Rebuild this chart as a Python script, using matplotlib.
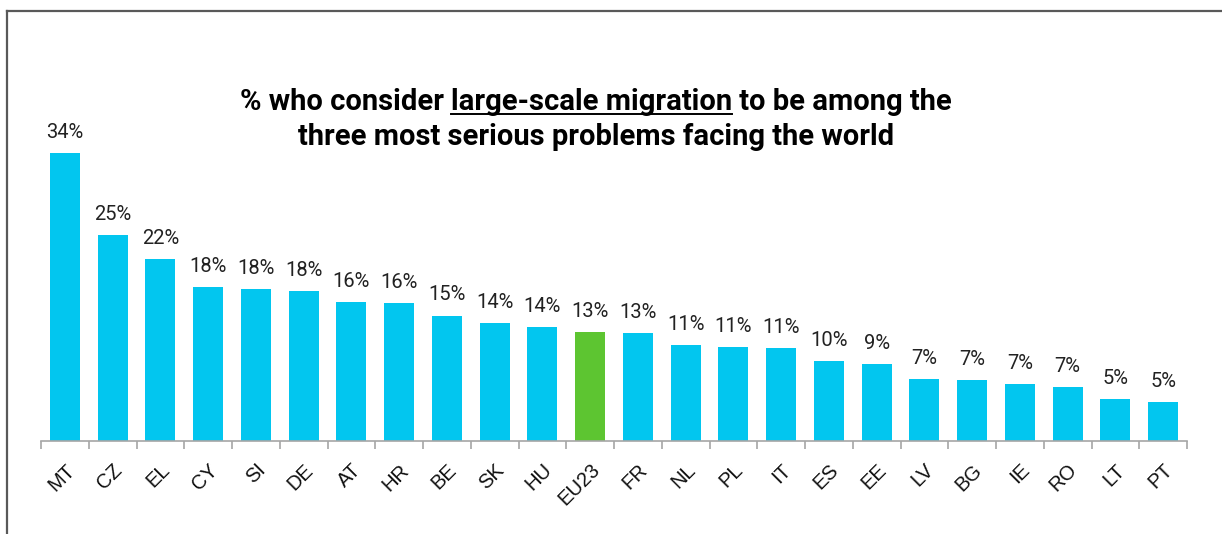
import matplotlib
matplotlib.use("Agg")
import matplotlib.pyplot as plt
from matplotlib.lines import Line2D

plt.rcParams['font.family'] = ['Roboto', 'DejaVu Sans']

countries = ["MT", "CZ", "EL", "CY", "SI", "DE", "AT", "HR", "BE", "SK", "HU", "EU23",
             "FR", "NL", "PL", "IT", "ES", "EE", "LV", "BG", "IE", "RO", "LT", "PT"]
values = [34.0, 24.3, 21.5, 18.2, 17.9, 17.7, 16.4, 16.3, 14.8, 13.9, 13.4, 12.9,
          12.7, 11.3, 11.1, 11.0, 9.4, 9.1, 7.3, 7.2, 6.7, 6.4, 5.0, 4.6]
labels = ["34%", "25%", "22%", "18%", "18%", "18%", "16%", "16%", "15%", "14%", "14%", "13%",
          "13%", "11%", "11%", "11%", "10%", "9%", "7%", "7%", "7%", "7%", "5%", "5%"]

blue = "#02c6ef"
green = "#5dc531"
colors = [green if c == "EU23" else blue for c in countries]

fig = plt.figure(figsize=(12.22, 5.34), dpi=100)
ax = fig.add_axes([41/1222, 1-441/534, (1187-41)/1222, 339/534])

x = list(range(len(countries)))
bars = ax.bar(x, values, width=0.63, color=colors, zorder=2)
for b, lab in zip(bars, labels):
    ax.annotate(lab, (b.get_x() + b.get_width()/2, b.get_height()),
                xytext=(0, 8), textcoords="offset points",
                ha="center", va="bottom", fontsize=14.5, color="#222222")

ax.set_xlim(-0.5, len(countries) - 0.5)
ax.set_ylim(0, 40)
for s in ["top", "right", "left"]:
    ax.spines[s].set_visible(False)
ax.spines["bottom"].set_color("#a6a6a6")
ax.spines["bottom"].set_linewidth(1.2)
ax.set_yticks([])

# ticks between categories, labels centred on bars
ax.set_xticks([i - 0.5 for i in range(len(countries) + 1)])
ax.set_xticklabels([])
ax.tick_params(axis="x", which="major", length=6, color="#a6a6a6", width=1.2)
ax.set_xticks(x, minor=True)
ax.set_xticklabels(countries, minor=True, rotation=45, ha="right", va="top",
                   rotation_mode="anchor", fontsize=14.5, color="#111111",
                   family="Liberation Sans")
ax.tick_params(axis="x", which="minor", length=0, pad=14)

# title with underlined middle part
fig.canvas.draw()
r = fig.canvas.get_renderer()
parts = ["% who consider ", "large-scale migration", " to be among the"]
tprops = dict(fontsize=21, fontweight="bold", color="#000000", va="baseline")
texts = [fig.text(0, 1-110/534, p, **tprops) for p in parts]
widths = [t.get_window_extent(r).width for t in texts]
cx = 596
left = cx - sum(widths) / 2
for t, w in zip(texts, widths):
    t.set_x(left / 1222)
    left += w
bb = texts[1].get_window_extent(r)
uy = 1 - 114/534
fig.add_artist(Line2D([bb.x0/1222, bb.x1/1222], [uy, uy], color="#000000", lw=1.4))
fig.text(cx/1222, 1-145/534, "three most serious problems facing the world",
         ha="center", **tprops)

# outer frame (top and left)
fy = 1 - 11/534
fx = 7/1222
fig.add_artist(Line2D([fx, 1], [fy, fy], color="#595959", lw=1.6))
fig.add_artist(Line2D([fx, fx], [0, fy], color="#595959", lw=1.6))

fig.savefig("out.png", dpi=100)
